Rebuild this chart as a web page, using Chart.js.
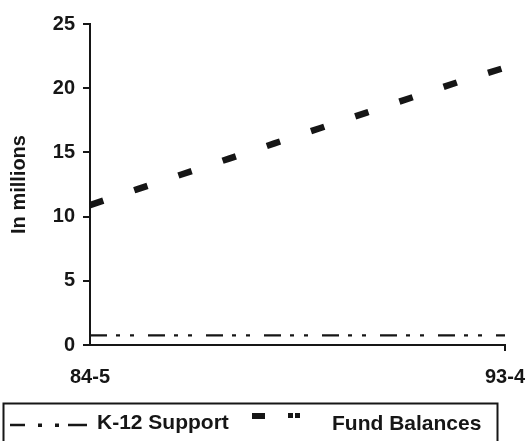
<!DOCTYPE html>
<html>
<head>
<meta charset="utf-8">
<script src="https://cdn.jsdelivr.net/npm/chart.js@4.4.1/dist/chart.umd.min.js"></script>
<style>
html,body{margin:0;padding:0;background:#fff;}
#wrap{width:527px;height:441px;position:relative;}
</style>
</head>
<body>
<div id="wrap"><canvas id="c" width="527" height="441"></canvas></div>
<script>
const years = ['84-5','85-6','86-7','87-8','88-9','89-90','90-1','91-2','92-3','93-4'];
const k12Support = [0.75,0.75,0.75,0.75,0.75,0.75,0.75,0.75,0.75,0.75];
const fundBalances = [10.9,12.1,13.3,14.5,15.7,16.9,18.1,19.3,20.5,21.6];
const yTicks = [0,5,10,15,20,25];
const shownXLabels = ['84-5','93-4'];

const INK = '#161616';
const FONT = "'Liberation Sans', Arial, sans-serif";

const legendPlugin = {
  id: 'boxLegend',
  afterDraw(chart) {
    const ctx = chart.ctx;
    ctx.save();
    ctx.strokeStyle = INK;
    ctx.lineWidth = 2;
    ctx.strokeRect(3.5, 403.5, 494, 60);
    // K-12 sample
    ctx.beginPath();
    ctx.lineWidth = 2.5;
    ctx.moveTo(10, 425); ctx.lineTo(25, 425);
    ctx.moveTo(68, 425); ctx.lineTo(87, 425);
    ctx.stroke();
    ctx.fillStyle = INK;
    ctx.fillRect(38, 423.5, 4, 3.5);
    ctx.fillRect(55, 423.5, 4, 3.5);
    // Fund Balances sample
    ctx.fillRect(252, 413, 13, 6);
    ctx.fillRect(288, 413, 5, 5);
    ctx.fillRect(295, 413, 5, 5);
    ctx.font = "bold 21px " + FONT;
    ctx.textBaseline = 'middle';
    ctx.textAlign = 'left';
    ctx.fillText('K-12 Support', 97, 423);
    ctx.fillText('Fund Balances', 332, 424);
    ctx.restore();
  }
};

new Chart(document.getElementById('c'), {
  type: 'line',
  data: {
    labels: years,
    datasets: [
      {
        label: 'K-12 Support',
        data: k12Support,
        borderColor: INK,
        borderWidth: 2.2,
        borderDash: [17, 9, 4, 10, 4, 14],
        pointRadius: 0,
        tension: 0,
        fill: false
      },
      {
        label: 'Fund Balances',
        data: fundBalances,
        borderColor: INK,
        borderWidth: 6.5,
        borderDash: [14, 32.6],
        borderCapStyle: 'butt',
        pointRadius: 0,
        tension: 0,
        fill: false
      }
    ]
  },
  options: {
    responsive: false,
    animation: false,
    events: [],
    layout: { padding: { left: 0, right: 22, top: 24, bottom: 46 } },
    plugins: {
      legend: { display: false },
      tooltip: { enabled: false },
      title: { display: false }
    },
    scales: {
      x: {
        type: 'category',
        offset: false,
        border: { display: true, color: INK, width: 2 },
        grid: {
          drawOnChartArea: false,
          drawTicks: true,
          tickLength: 6,
          color: (c) => (c.index === years.length - 1 ? INK : 'rgba(0,0,0,0)'),
          lineWidth: 2
        },
        ticks: {
          autoSkip: false,
          maxRotation: 0,
          padding: 14,
          color: INK,
          font: { family: FONT, size: 20, weight: 'bold' },
          callback: function(v, i) {
            const l = this.getLabelForValue(v);
            return shownXLabels.includes(l) ? l : '';
          }
        },
        afterFit: (s) => { s.height = 50; s.paddingRight = 0; s.paddingLeft = 0; }
      },
      y: {
        min: 0,
        max: 25,
        border: { display: true, color: INK, width: 2 },
        grid: {
          drawOnChartArea: false,
          drawTicks: true,
          tickLength: 7,
          color: INK,
          lineWidth: 2
        },
        afterBuildTicks: (s) => { s.ticks = yTicks.map(v => ({ value: v })); },
        ticks: {
          padding: 8,
          color: INK,
          font: { family: FONT, size: 20, weight: 'bold' }
        },
        title: {
          display: true,
          text: 'In millions',
          color: INK,
          font: { family: FONT, size: 20, weight: 'bold' },
          padding: { top: 7, bottom: 0 }
        },
        afterFit: (s) => { s.width = 90; }
      }
    }
  },
  plugins: [legendPlugin]
});
</script>
</body>
</html>
